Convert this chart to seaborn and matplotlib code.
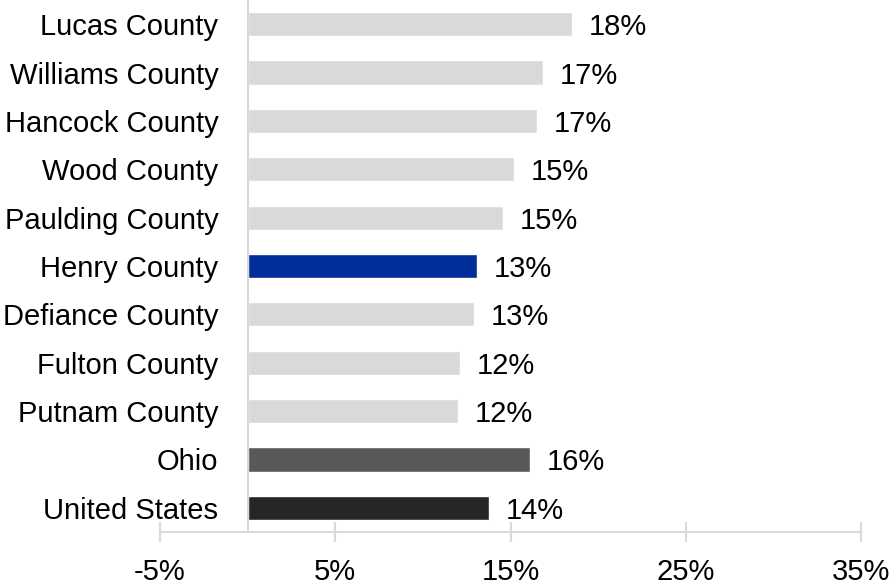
import pandas as pd
import seaborn as sns
import matplotlib.pyplot as plt

# values (percent)
areas = ['Lucas County', 'Williams County', 'Hancock County', 'Wood County',
         'Paulding County', 'Henry County', 'Defiance County', 'Fulton County',
         'Putnam County', 'Ohio', 'United States']
values = [18.5, 16.85, 16.5, 15.2, 14.6, 13.1, 12.9, 12.1, 12.0, 16.1, 13.8]
value_labels = ['18%', '17%', '17%', '15%', '15%', '13%', '13%', '12%', '12%', '16%', '14%']
bar_colors = ['#d9d9d9'] * 5 + ['#002d99'] + ['#d9d9d9'] * 3 + ['#595959', '#262626']
tick_vals = [-5, 5, 15, 25, 35]
tick_labels = ['-5%', '5%', '15%', '25%', '35%']

df = pd.DataFrame({'area': areas, 'value': values})

sns.set_theme(style='white')
plt.rcParams['font.family'] = ['Liberation Sans', 'DejaVu Sans']

fig = plt.figure(figsize=(8.92, 5.85), dpi=100)
ax = fig.add_axes([160 / 892, 1 - 532 / 585, (861 - 160) / 892, 532 / 585])

sns.barplot(data=df, y='area', x='value', hue='area', palette=bar_colors,
            order=areas, hue_order=areas, legend=False, width=0.5,
            saturation=1, orient='h', ax=ax)

for cont, lab in zip(ax.containers, value_labels):
    texts = ax.bar_label(cont, labels=[lab], padding=12, fontsize=21, color='black')
    for t in texts:
        t.set_va('center_baseline')

ax.set_xlim(-5, 35)
ax.set_ylim(len(areas) - 0.5, -0.5)
ax.set_xticks(tick_vals)
ax.set_xticklabels(tick_labels, fontsize=21)
ax.set_xlabel('')
ax.set_ylabel('')

# zero line doubles as the category axis
for s in ['top', 'right']:
    ax.spines[s].set_visible(False)
ax.spines['left'].set_position(('data', 0))
ax.spines['left'].set_color('#d9d9d9')
ax.spines['left'].set_linewidth(1.5)
ax.spines['bottom'].set_color('#d9d9d9')
ax.spines['bottom'].set_linewidth(1.5)

ax.tick_params(axis='x', bottom=True, direction='inout', length=14, width=1.5,
               color='#d9d9d9', pad=12, labelcolor='black')
ax.tick_params(axis='y', left=False, length=0, pad=21, labelsize=21, labelcolor='black')
ax.grid(False)

fig.savefig('out.png', dpi=100)
